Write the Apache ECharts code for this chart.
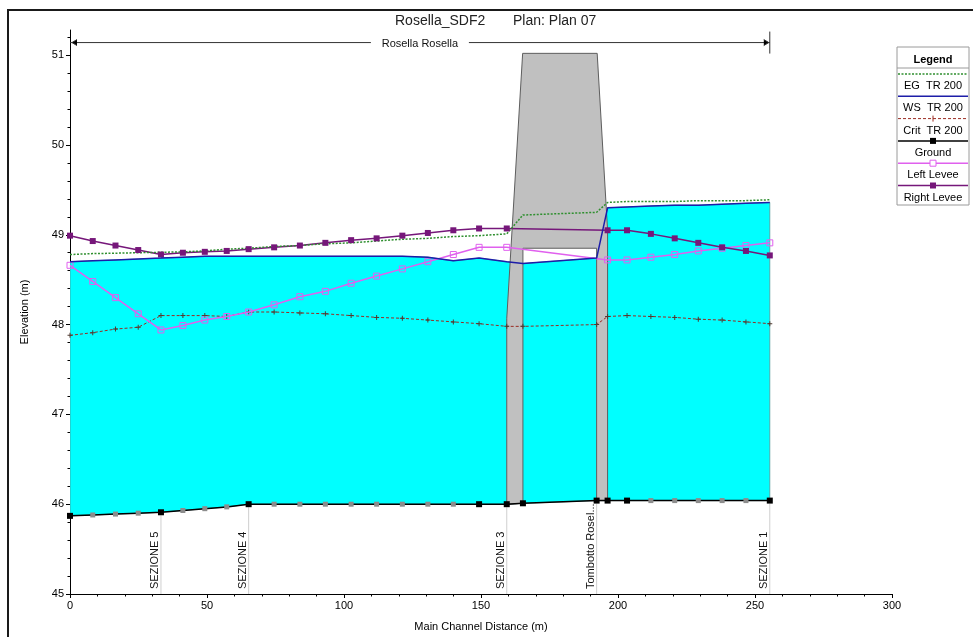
<!DOCTYPE html>
<html>
<head>
<meta charset="utf-8">
<script src="https://cdn.jsdelivr.net/npm/echarts@6/dist/echarts.min.js"></script>
<style>
  html, body { margin: 0; padding: 0; background: #ffffff; }
  #chart { width: 973px; height: 637px; }
</style>
</head>
<body>
<div id="chart"></div>
<script>
// Main channel distance (m) of every plotted station, cross sections and interpolated ones
const stations = [0, 8.3, 16.6, 24.9, 33.2, 41.2, 49.2, 57.2, 65.2, 74.5, 83.9, 93.2, 102.6, 111.9,
  121.3, 130.6, 139.9, 149.3, 159.4, 165.3, 192.2, 196.2, 203.3, 212.0, 220.7, 229.3, 238.0, 246.7, 255.4];

// Surveyed cross sections (the rest are interpolated)
const crossSections = [0, 33.2, 65.2, 149.3, 159.4, 165.3, 192.2, 196.2, 203.3, 255.4];

// Elevations (m) along the reach, profile TR 200
const ground = [45.87, 45.88, 45.89, 45.90, 45.91, 45.93, 45.95, 45.97, 46.00, 46.00, 46.00, 46.00, 46.00, 46.00,
  46.00, 46.00, 46.00, 46.00, 46.00, 46.01, 46.04, 46.04, 46.04, 46.04, 46.04, 46.04, 46.04, 46.04, 46.04];
const wsTR200 = [48.70, 48.71, 48.72, 48.73, 48.74, 48.75, 48.76, 48.76, 48.76, 48.76, 48.76, 48.76, 48.76, 48.76,
  48.76, 48.75, 48.71, 48.74, 48.70, 48.68, 48.74, 49.30, 49.31, 49.32, 49.33, 49.33, 49.34, 49.35, 49.36];
const egTR200 = [48.78, 48.79, 48.795, 48.80, 48.805, 48.81, 48.82, 48.84, 48.85, 48.87, 48.88, 48.90, 48.91, 48.93,
  48.95, 48.96, 48.98, 48.99, 49.01, 49.22, 49.25, 49.36, 49.37, 49.37, 49.37, 49.38, 49.38, 49.38, 49.39];
const critTR200 = [47.88, 47.91, 47.95, 47.97, 48.10, 48.10, 48.10, 48.09, 48.14, 48.14, 48.13, 48.12, 48.10, 48.08,
  48.07, 48.05, 48.03, 48.01, 47.98, 47.98, 48.00, 48.09, 48.10, 48.09, 48.08, 48.06, 48.05, 48.03, 48.01];
const leftLevee = [48.66, 48.48, 48.30, 48.12, 47.94, 47.99, 48.05, 48.09, 48.14, 48.22, 48.31, 48.37, 48.46, 48.54,
  48.62, 48.70, 48.78, 48.86, 48.86, null, null, 48.72, 48.72, 48.75, 48.78, 48.82, 48.85, 48.88, 48.91];
const rightLevee = [48.99, 48.93, 48.88, 48.83, 48.78, 48.80, 48.81, 48.82, 48.84, 48.86, 48.88, 48.91, 48.94, 48.96,
  48.99, 49.02, 49.05, 49.07, 49.07, null, null, 49.05, 49.05, 49.01, 48.96, 48.91, 48.86, 48.82, 48.77];

// Culvert embankment outline (distance, elevation), opening left free
const embankX = [159.4, 159.4, 165.2, 192.4, 196.2, 196.2, 192.2, 192.2, 165.3, 165.3];
const embankZ = [46.00, 48.07, 51.02, 51.02, 49.05, 46.04, 46.04, 48.85, 48.85, 46.01];

// Labelled cross sections
const sectionAt = [33.2, 65.2, 159.4, 192.2, 255.4];
const sectionNames = ['SEZIONE 5', 'SEZIONE 4', 'SEZIONE 3', 'Tombotto Rosel...', 'SEZIONE 1'];

// River / reach span
const reachName = 'Rosella Rosella';
const reachFrom = 0, reachTo = 255.4, reachLevel = 51.14;

// Axis ticks
const yMajor = [45, 46, 47, 48, 49, 50, 51];
const yMinor = [];
for (let v = 45.2; v < 51.25; v += 0.2) {
  const r = Math.round(v * 10) / 10;
  if (Math.abs(r - Math.round(r)) > 1e-6) yMinor.push(r);
}

const FONT = 'Liberation Sans, Arial, sans-serif';
const plusPath = 'path://M2,0H3V2H5V3H3V5H2V3H0V2H2Z';

const styles = {
  'EG  TR 200':  { color: '#2f8f2f', width: 1.5, type: [2, 1.5], symbol: 'none' },
  'WS  TR 200':  { color: '#1d1da8', width: 1.5, type: 'solid', symbol: 'none' },
  'Crit  TR 200':{ color: '#9a2c22', width: 1, type: [3, 2], symbol: plusPath, symbolSize: 5, symbolColor: '#4f3a30' },
  'Ground':      { color: '#000000', width: 1.5, type: 'solid', symbol: 'rect', symbolSize: 6 },
  'Left Levee':  { color: '#e060ee', width: 1.5, type: 'solid', symbol: 'rect', symbolSize: 6, hollow: true },
  'Right Levee': { color: '#76177a', width: 1.5, type: 'solid', symbol: 'rect', symbolSize: 6 }
};
const legendNames = ['EG  TR 200', 'WS  TR 200', 'Crit  TR 200', 'Ground', 'Left Levee', 'Right Levee'];

function pairs(values) {
  return stations.map((x, i) => [x, values[i] === null ? '-' : values[i]]);
}

function lineSeries(name, values, z) {
  const s = styles[name];
  return {
    name, type: 'line', data: pairs(values), z,
    connectNulls: true, animation: false, silent: true,
    symbol: s.symbol, symbolSize: s.symbolSize || 0, showSymbol: s.symbol !== 'none',
    lineStyle: { color: s.color, width: s.width, type: s.type },
    itemStyle: s.hollow
      ? { color: 'rgba(255,255,255,0)', borderColor: s.color, borderWidth: 1 }
      : { color: s.symbolColor || s.color }
  };
}

const groundSeries = {
  name: 'Ground', type: 'line', z: 8, animation: false, silent: true,
  lineStyle: { color: '#000', width: 1.5 },
  symbol: 'rect',
  data: stations.map((x, i) => {
    const xs = crossSections.includes(x);
    return { value: [x, ground[i]], symbolSize: xs ? 6 : 5,
      itemStyle: { color: xs ? '#000000' : '#8c8c8c' } };
  })
};

function groundAt(x) { return ground[stations.indexOf(x)]; }

// Legend box drawn beside the plot
const legendGraphic = [];
const lgX = 897, lgY = 47, lgW = 72, lgStep = 22.3;
legendGraphic.push({ type: 'rect', shape: { x: lgX, y: lgY, width: lgW, height: 158 },
  style: { fill: '#fff', stroke: '#9a9a9a', lineWidth: 1 } });
legendGraphic.push({ type: 'text', x: lgX + lgW / 2, y: lgY + 13,
  style: { text: 'Legend', font: 'bold 11px ' + FONT, fill: '#000', align: 'center', verticalAlign: 'middle' } });
legendGraphic.push({ type: 'line', shape: { x1: lgX, y1: lgY + 21, x2: lgX + lgW, y2: lgY + 21 },
  style: { stroke: '#9a9a9a', lineWidth: 1 } });
legendNames.forEach((name, i) => {
  const s = styles[name];
  const ly = lgY + 27 + lgStep * i;
  legendGraphic.push({ type: 'line', shape: { x1: lgX + 1, y1: ly, x2: lgX + lgW - 1, y2: ly },
    style: { stroke: s.color, lineWidth: s.width, lineDash: Array.isArray(s.type) ? s.type : null } });
  if (s.symbol === 'rect') {
    legendGraphic.push({ type: 'rect', shape: { x: lgX + lgW / 2 - 3, y: ly - 3, width: 6, height: 6 },
      style: s.hollow ? { fill: '#fff', stroke: s.color, lineWidth: 1 } : { fill: s.color } });
  } else if (s.symbol === plusPath) {
    legendGraphic.push({ type: 'line', shape: { x1: lgX + lgW / 2, y1: ly - 3, x2: lgX + lgW / 2, y2: ly + 3 },
      style: { stroke: s.color, lineWidth: 1 } });
  }
  legendGraphic.push({ type: 'text', x: lgX + lgW / 2, y: ly + 12,
    style: { text: name, font: '11px ' + FONT, fill: '#000', align: 'center', verticalAlign: 'middle' } });
});

const chart = echarts.init(document.getElementById('chart'), null, { renderer: 'canvas' });

chart.setOption({
  animation: false,
  backgroundColor: '#ffffff',
  textStyle: { fontFamily: FONT },
  grid: { left: 70, right: 81, top: 30, bottom: 40, containLabel: false },
  xAxis: {
    type: 'value', min: 0, max: 300, interval: 50,
    name: 'Main Channel Distance (m)', nameLocation: 'middle', nameGap: 27,
    nameTextStyle: { fontSize: 11, color: '#000', fontFamily: FONT },
    axisLine: { lineStyle: { color: '#000', width: 1 } },
    axisTick: { length: 4, lineStyle: { color: '#000' } },
    minorTick: { show: true, splitNumber: 5, length: 2.5, lineStyle: { color: '#000' } },
    splitLine: { show: false },
    axisLabel: { fontSize: 11, color: '#000', margin: 6, fontFamily: FONT }
  },
  yAxis: [{
    type: 'value', min: 45, max: 51.28, position: 'left',
    name: 'Elevation (m)', nameLocation: 'middle', nameGap: 40, nameRotate: 90,
    nameTextStyle: { fontSize: 11, color: '#000', fontFamily: FONT },
    axisLine: { show: true, lineStyle: { color: '#000', width: 1 } },
    axisTick: { show: true, length: 4, customValues: yMajor, lineStyle: { color: '#000' } },
    axisLabel: { fontSize: 11, color: '#000', margin: 6, customValues: yMajor, fontFamily: FONT },
    splitLine: { show: false }
  }, {
    type: 'value', min: 45, max: 51.28, position: 'left',
    axisLine: { show: false },
    axisTick: { show: true, length: 2.5, customValues: yMinor, lineStyle: { color: '#000' } },
    axisLabel: { show: false },
    splitLine: { show: false }
  }],
  graphic: [
    { type: 'rect', shape: { x: 8, y: 10, width: 990, height: 660 },
      style: { fill: 'none', stroke: '#1a1a1a', lineWidth: 2 }, z: 100 },
    { type: 'text', x: 395, y: 21, style: { text: 'Rosella_SDF2', font: '14px ' + FONT, fill: '#222',
      verticalAlign: 'middle' } },
    { type: 'text', x: 513, y: 21, style: { text: 'Plan: Plan 07', font: '14px ' + FONT, fill: '#222',
      verticalAlign: 'middle' } }
  ].concat(legendGraphic),
  series: [
    // water body between ground and water surface
    {
      type: 'custom', z: 1, silent: true, animation: false, clip: true,
      data: [[0, 45]],
      renderItem: (params, api) => {
        const pts = stations.map((x, i) => api.coord([x, wsTR200[i]]));
        for (let i = stations.length - 1; i >= 0; i--) pts.push(api.coord([stations[i], ground[i]]));
        return { type: 'polygon', shape: { points: pts },
          style: { fill: '#00ffff', stroke: '#4f9595', lineWidth: 0.8 } };
      }
    },
    // culvert embankment
    {
      type: 'custom', z: 2, silent: true, animation: false, clip: true,
      data: [[0, 45]],
      renderItem: (params, api) => {
        const pts = embankX.map((x, i) => api.coord([x, embankZ[i]]));
        return { type: 'polygon', shape: { points: pts },
          style: { fill: '#c0c0c0', stroke: '#5e5e5e', lineWidth: 1 } };
      }
    },
    // cross-section markers and names
    {
      type: 'custom', z: 3, silent: true, animation: false, clip: false,
      data: sectionAt.map(x => [x, groundAt(x)]),
      renderItem: (params, api) => {
        const x = api.value(0), g = api.value(1);
        const top = api.coord([x, g]);
        const bot = api.coord([x, 45]);
        return { type: 'group', children: [
          { type: 'line', shape: { x1: top[0], y1: top[1] + 3, x2: bot[0], y2: bot[1] },
            style: { stroke: '#cfcfcf', lineWidth: 1 } },
          { type: 'text', x: bot[0] - 0.5, y: bot[1] - 5, rotation: Math.PI / 2,
            style: { text: sectionNames[params.dataIndex], font: '11px ' + FONT, fill: '#111',
              align: 'left', verticalAlign: 'bottom' } }
        ] };
      }
    },
    // reach span with name
    {
      type: 'custom', z: 3, silent: true, animation: false, clip: false,
      data: [[reachFrom, reachLevel, reachTo]],
      renderItem: (params, api) => {
        const a = api.coord([api.value(0), api.value(1)]);
        const b = api.coord([api.value(2), api.value(1)]);
        const mid = (a[0] + b[0]) / 2, y = a[1], gap = 49;
        const st = { stroke: '#333', lineWidth: 1 };
        return { type: 'group', children: [
          { type: 'line', shape: { x1: a[0], y1: y, x2: mid - gap, y2: y }, style: st },
          { type: 'line', shape: { x1: mid + gap, y1: y, x2: b[0], y2: y }, style: st },
          { type: 'polyline', shape: { points: [[a[0] + 7, y - 3], [a[0] + 2, y], [a[0] + 7, y + 3]] }, style: st },
          { type: 'polyline', shape: { points: [[b[0] - 6, y - 3], [b[0] - 1, y], [b[0] - 6, y + 3]] }, style: st },
          { type: 'line', shape: { x1: b[0], y1: y - 11, x2: b[0], y2: y + 11 }, style: st },
          { type: 'text', x: mid, y: y + 1, style: { text: reachName, font: '11px ' + FONT, fill: '#111',
            align: 'center', verticalAlign: 'middle' } }
        ] };
      }
    },
    lineSeries('Crit  TR 200', critTR200, 4),
    lineSeries('Left Levee', leftLevee, 5),
    lineSeries('Right Levee', rightLevee, 6),
    lineSeries('EG  TR 200', egTR200, 6),
    lineSeries('WS  TR 200', wsTR200, 7),
    groundSeries
  ]
});
</script>
</body>
</html>
